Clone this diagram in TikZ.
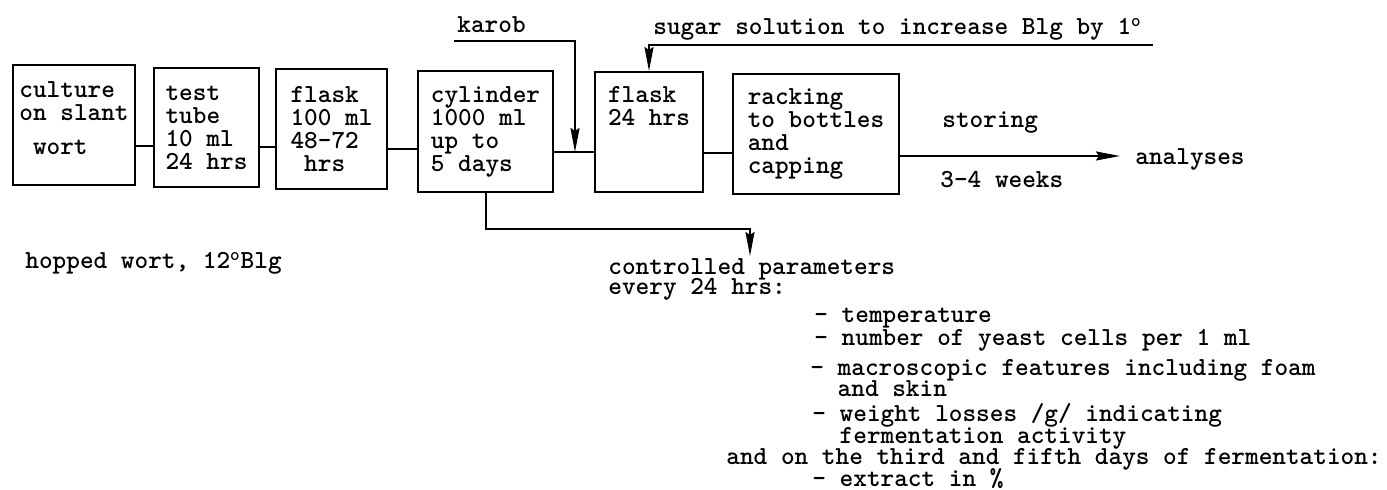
\documentclass[tikz,border=0pt]{standalone}
\usepackage{fontspec}
\usetikzlibrary{arrows.meta}
\tikzset{
  stage/.style={draw,line width=1pt,align=left,inner sep=0pt},
  link/.style={line width=1pt},
  feed/.style={line width=1pt,-{Stealth[length=12pt,width=4.5pt,inset=1.5pt]}},
  note/.style={anchor=base west,inner sep=0pt,align=left}
}

\begin{document}
\begin{tikzpicture}[x=0.5pt,y=-0.5pt,font={\ttfamily\bfseries\fontsize{13pt}{11.5pt}\selectfont}]
  \useasboundingbox (0,0) rectangle (1387,490);
  % process chain
  \node[stage,minimum width=61pt,minimum height=60pt] (b1) at (74,125) {culture\\on slant\\[5.5pt]~wort\rule[-7pt]{0pt}{7pt}};
  \node[stage,minimum width=52.5pt,minimum height=59.5pt] (b2) at (206.5,127.5) {test\\tube\\10 ml\\24 hrs};
  \node[stage,minimum width=55.5pt,minimum height=60pt] (b3) at (331.5,129) {flask\\100 ml\\48-72\\~hrs};
  \node[stage,minimum width=67.5pt,minimum height=60.5pt] (b4) at (485.5,131.5) {cylinder\\1000 ml\\up to\\5 days};
  \node[stage,minimum width=54pt,minimum height=60pt] (b5) at (649,132) {flask\\24 hrs\rule[-25.75pt]{0pt}{25.75pt}};
  \node[stage,minimum width=83pt,minimum height=60pt] (b6) at (816,134) {racking\\to bottles\\and\\capping};
  \node[note] (ana) at (1135,165) {analyses};
  \draw[link] (b1.east |- 0,146) -- (b2.west |- 0,146);
  \draw[link] (b2.east |- 0,147) -- (b3.west |- 0,147);
  \draw[link] (b3.east |- 0,149) -- (b4.west |- 0,149);
  \draw[link] (b4.east |- 0,152) -- (b5.west |- 0,152);
  \draw[link] (b5.east |- 0,153) -- (b6.west |- 0,153);
  \draw[feed,shorten >=7.5pt] (b6.east |- 0,156) -- (ana.west |- 0,156);
  \node[note] (store) at (942,128) {storing};
  \node[note] (weeks) at (940,188) {3-4 weeks};
  % additions from above
  \node[note] (karob) at (457,33) {karob};
  \coordinate (karobin) at (454,41);
  \coordinate (karobjoin) at (575,152);
  \draw[feed] (karobin) -| (karobjoin);
  \node[note] (sugar) at (653,35) {sugar solution to increase Blg by 1\textsuperscript{o}};
  \coordinate (sugarin) at (1153,45);
  \draw[feed] (sugarin) -| (b5.north);
  % medium
  \node[note] (hop) at (25,269) {hopped wort, 12\textsuperscript{o}Blg};
  % control of the fermentation
  \coordinate (ctrlturn) at (750,229);
  \coordinate (ctrlin) at (750,256);
  \draw[feed] (b4.south) |- (ctrlturn) -- (ctrlin);
  \node[note] (ctrl) at (608,295) {controlled parameters\\[-1.5pt]every 24 hrs:};
  \node[note] (p1) at (814,323) {- temperature};
  \node[note] (p2) at (814,346) {- number of yeast cells per 1 ml};
  \node[note] (p3) at (810,397) {- macroscopic features including foam\\[-1pt]~~and skin};
  \node[note] (p4) at (812,444) {- weight losses /g/ indicating\\[-0.5pt]~~fermentation activity};
  \node[note] (also) at (726,465) {and on the third and fifth days of fermentation:};
  \node[note] (p5) at (812,487) {- extract in \%};
\end{tikzpicture}
\end{document}
